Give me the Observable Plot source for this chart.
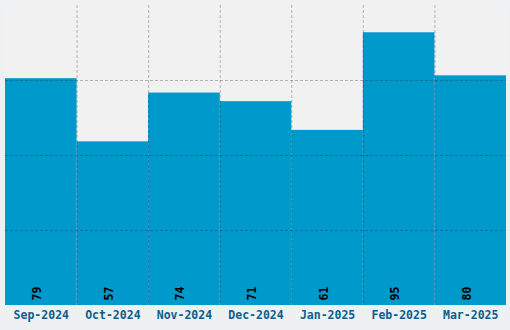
<!DOCTYPE html>
<html>
<head>
<meta charset="utf-8">
<script src="https://cdn.jsdelivr.net/npm/d3@7"></script>
<script src="https://cdn.jsdelivr.net/npm/@observablehq/plot@0.6"></script>
<style>
  html, body { margin: 0; padding: 0; background: #eef0f1; }
  #chart svg { display: block; }
</style>
</head>
<body>
<div id="chart"></div>
<script>
const months = ["Sep-2024", "Oct-2024", "Nov-2024", "Dec-2024", "Jan-2025", "Feb-2025", "Mar-2025"];
const values = [79, 57, 74, 71, 61, 95, 80];

const data = months.map((m, i) => ({month: m, value: values[i]}));
const yMax = d3.max(values) * 1.1;
const gridY = [1, 2, 3].map(k => yMax * k / 4);

const W = 510, H = 330, mL = 5, mR = 4, mT = 5, mB = 25;
const bandW = (W - mL - mR) / months.length;
const font = "'DejaVu Sans Mono', monospace";
const gridStyle = {stroke: "#000", strokeOpacity: 0.26, strokeDasharray: "3,2", strokeWidth: 1};

const chart = Plot.plot({
  width: W,
  height: H,
  marginLeft: mL,
  marginRight: mR,
  marginTop: mT,
  marginBottom: mB,
  style: {background: "transparent", fontFamily: font},
  x: {domain: months, padding: 0, round: false, label: null},
  y: {domain: [0, yMax], axis: null},
  marks: [
    Plot.frame({fill: "#f1f1f1", stroke: null}),
    Plot.barY(data, {x: "month", y: "value", fill: "#0099cc", inset: 0}),
    Plot.ruleY(gridY, gridStyle),
    Plot.ruleX(months.slice(1), {x: d => d, dx: -bandW / 2, ...gridStyle}),
    Plot.text(data, {
      x: "month",
      text: d => String(d.value),
      frameAnchor: "bottom",
      rotate: -90,
      textAnchor: "start",
      dy: -5,
      fill: "#000",
      fontFamily: font,
      fontWeight: "bold",
      fontSize: 11.5
    }),
    Plot.axisX({
      tickSize: 0,
      tickPadding: 5,
      label: null,
      fill: "#0b5e8e",
      fontFamily: font,
      fontWeight: "bold",
      fontSize: 11.5
    })
  ]
});
document.getElementById("chart").appendChild(chart);
</script>
</body>
</html>
